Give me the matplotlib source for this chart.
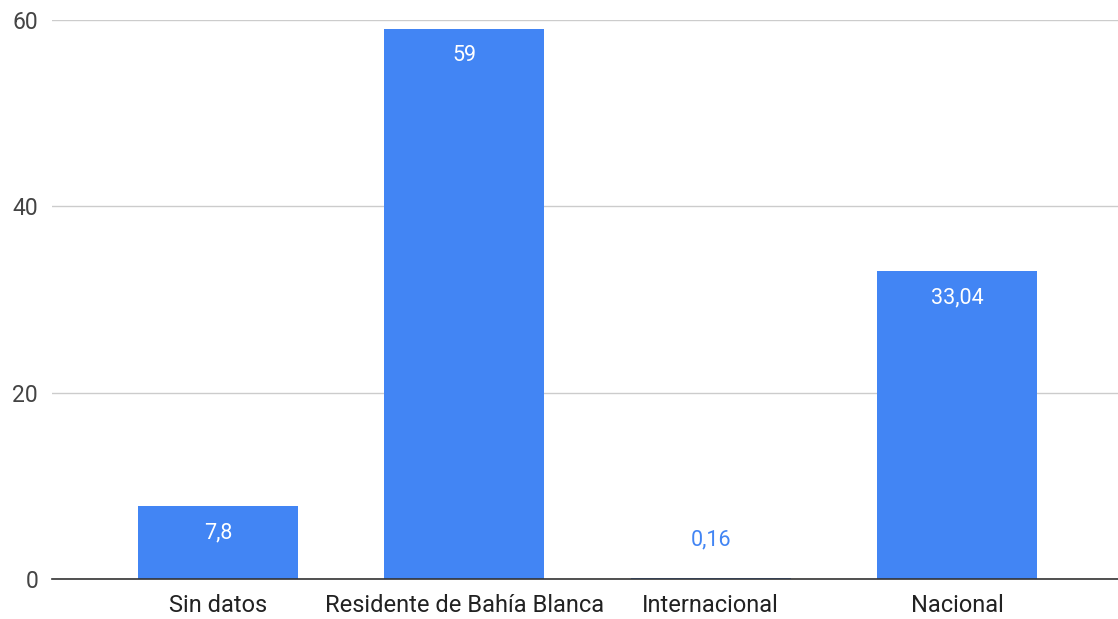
import matplotlib.pyplot as plt

plt.rcParams['font.family'] = ['Roboto', 'DejaVu Sans']

categorias = ['Sin datos', 'Residente de Bahía Blanca', 'Internacional', 'Nacional']
valores = [7.8, 59, 0.16, 33.04]
etiquetas = ['7,8', '59', '0,16', '33,04']
ticks_y = [0, 20, 40, 60]

azul = '#4285f4'

fig = plt.figure(figsize=(11.18, 6.19), dpi=100)
ax = fig.add_axes([52 / 1118, 1 - 579 / 619, 1 - 52 / 1118, (579 - 20) / 619])

x = range(len(categorias))
barras = ax.bar(x, valores, width=0.65, color=azul, zorder=3)

# etiquetas de valor: dentro de la barra si hay lugar, arriba si no
for b, v, t in zip(barras, valores, etiquetas):
    cx = b.get_x() + b.get_width() / 2
    if v > 3:
        ax.annotate(t, (cx, v), xytext=(0, -19), textcoords='offset points',
                    ha='center', va='center', color='white', fontsize=15.5, zorder=4)
    else:
        ax.annotate(t, (cx, v), xytext=(0, 27), textcoords='offset points',
                    ha='center', va='center', color=azul, fontsize=15.5, zorder=4)

ax.set_xlim(-0.674, 3.654)
ax.set_ylim(0, 60)
ax.set_xticks(list(x))
ax.set_xticklabels(categorias, fontsize=17, color='#222222')
ax.set_yticks(ticks_y)
ax.set_yticklabels([str(t) for t in ticks_y], fontsize=16.5, color='#444444')
ax.tick_params(length=0)
ax.tick_params(axis='x', pad=11)
ax.tick_params(axis='y', pad=10)

ax.grid(axis='y', color='#cccccc', linewidth=1, zorder=0)
for s in ['top', 'right', 'left']:
    ax.spines[s].set_visible(False)
ax.spines['bottom'].set_color('#333333')
ax.spines['bottom'].set_linewidth(1.2)
ax.spines['bottom'].set_zorder(5)

fig.savefig('out.png', dpi=100)
